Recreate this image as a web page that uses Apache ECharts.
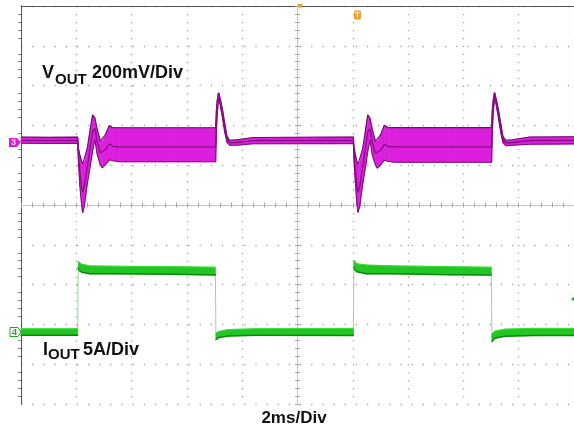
<!DOCTYPE html>
<html><head><meta charset="utf-8">
<script src="https://cdn.jsdelivr.net/npm/echarts@6/dist/echarts.min.js"></script>
<style>html,body{margin:0;padding:0;background:#fff}#c{width:574px;height:432px}</style>
</head><body><div id="c"></div>
<script>
// Time in ms relative to screen centre (2 ms/div), VOUT deviation in mV (200 mV/div), IOUT in A (5 A/div)
const vTime  = [-10.00,-9.00,-7.95,-7.92,-7.87,-7.81,-7.77,-7.71,-7.60,-7.49,-7.41,-7.33,-7.24,-7.13,-7.06,-6.95,-6.81,-6.67,-6.45,-4.50,-2.96,-2.935,-2.90,-2.86,-2.83,-2.78,-2.71,-2.63,-2.55,-2.45,-2.20,-1.60,
                 2.02,2.05,2.10,2.15,2.19,2.25,2.36,2.47,2.54,2.62,2.71,2.82,2.89,3.00,3.14,3.28,3.50,5.50,7.02,7.045,7.08,7.12,7.15,7.20,7.27,7.35,7.43,7.53,7.78,8.40,10.00];
const vUpper = [16,15,16,-40,-75,-105,-118,-110,-38,63,128,113,53,-3,-3,28,73,63,63,63,63,150,205,238,238,200,153,85,20,0,3,14,
                17,-42,-77,-107,-120,-112,-40,62,128,112,52,-5,-5,27,76,64,64,64,64,150,205,240,238,200,153,85,20,0,3,17,18];
const vLower = [-15,-16,-15,-110,-230,-320,-364,-330,-217,-123,-53,3,-73,-123,-138,-123,-98,-103,-108,-108,-108,40,140,195,210,165,110,40,-10,-25,-25,-17,
                -16,-112,-232,-322,-362,-332,-218,-125,-55,0,-75,-125,-140,-125,-100,-105,-110,-110,-110,40,140,198,210,165,110,40,-12,-27,-25,-20,-18];
const vMean  = [0,-1,0,-75,-160,-230,-260,-230,-130,-30,45,60,-10,-63,-70,-48,-18,-30,-33,-33,-33,95,172,216,224,182,131,62,5,-12,-11,-1,
                0,-77,-162,-232,-260,-232,-132,-32,44,58,-12,-65,-72,-50,-20,-31,-33,-33,-33,95,172,218,224,182,131,62,4,-13,-11,-1,0];

const iTime  = [-10.00,-7.95,-7.93,-7.88,-7.80,-7.50,-6.50,-4.50,-2.97,-2.95,-2.85,-2.50,-1.50,
                 2.02,2.04,2.09,2.17,2.50,3.50,5.50,7.01,7.03,7.13,7.50,8.50,10.00];
const iUpper = [0.40,0.40,8.85,8.70,8.50,8.30,8.25,8.20,8.13,-0.15,0.05,0.30,0.40,
                0.45,9.00,8.75,8.55,8.40,8.30,8.20,8.13,-0.25,0.10,0.35,0.45,0.45];
const iLower = [-0.40,-0.40,8.00,7.70,7.50,7.30,7.30,7.25,7.16,-0.95,-0.70,-0.50,-0.40,
                -0.45,8.10,7.75,7.55,7.30,7.30,7.20,7.16,-1.20,-0.80,-0.55,-0.45,-0.45];
const iMean  = [0,0,8.40,8.20,8.00,7.80,7.78,7.72,7.65,-0.55,-0.35,-0.10,0,
                0,8.50,8.25,8.05,7.85,7.80,7.70,7.65,-0.70,-0.35,-0.10,0,0];

const timeRange = [-10, 10];      // 10 divisions x 2 ms
const divRange  = [-5, 5];        // 10 vertical divisions
const voltRange = [-1325, 675];   // mV, 200 mV/div
const currRange = [-9.05, 40.95]; // A, 5 A/div

const zip = (xs, ys) => xs.map((x, i) => [x, ys[i]]);
const zip3 = (xs, a, b) => xs.map((x, i) => [x, a[i], b[i]]);

const chart = echarts.init(document.getElementById('c'), null, {renderer: 'canvas'});
const FONT = '"Liberation Sans", Arial, sans-serif';
const gridDot = '#a4a4a4';
const tickCol = '#a8a8a8';

const lineS = (extra) => Object.assign({type: 'line', symbol: 'none', silent: true, animation: false, xAxisIndex: 0}, extra);

// band between upper (dim 1) and lower (dim 2); optional edge strokes; steep (switching) segments left to the thin trace
function bandRender(n, fill, edgeTop, edgeBot, skipSteep) {
  return function (params, api) {
    const i = params.dataIndexInside;
    if (i >= n - 1) return null;
    const a = api.coord([api.value(0, i), api.value(1, i)]);
    const b = api.coord([api.value(0, i + 1), api.value(1, i + 1)]);
    const c = api.coord([api.value(0, i + 1), api.value(2, i + 1)]);
    const d = api.coord([api.value(0, i), api.value(2, i)]);
    const steep = (p, q) => Math.abs(q[1] - p[1]) > 4 * Math.abs(q[0] - p[0]) && Math.abs(q[1] - p[1]) > 12;
    const children = [];
    const isSteep = skipSteep && steep(a, b) && steep(d, c);
    if (!isSteep) {
      children.push({type: 'polygon', shape: {points: [a, b, c, d]}, style: {fill: fill, stroke: fill, lineWidth: 0.6}});
      if (edgeTop) children.push({type: 'line', shape: {x1: a[0], y1: a[1], x2: b[0], y2: b[1]}, style: {stroke: edgeTop[0], lineWidth: edgeTop[1], lineCap: 'round'}});
      if (edgeBot) children.push({type: 'line', shape: {x1: d[0], y1: d[1], x2: c[0], y2: c[1]}, style: {stroke: edgeBot[0], lineWidth: edgeBot[1], lineCap: 'round'}});
    }
    return {type: 'group', children: children};
  };
}
const bandS = (extra, n, fill, edgeTop, edgeBot, skipSteep) => Object.assign({type: 'custom', silent: true, animation: false, xAxisIndex: 0,
  encode: {x: 0, y: [1, 2]}, renderItem: bandRender(n, fill, edgeTop, edgeBot, skipSteep)}, extra);

const option = {
  animation: false,
  backgroundColor: '#ffffff',
  grid: {left: 21, top: 6, width: 558, height: 398, show: false},
  xAxis: [
    {type: 'value', min: timeRange[0], max: timeRange[1], interval: 2, position: 'bottom',
     axisLine: {show: true, onZero: true, onZeroAxisIndex: 0, lineStyle: {color: '#c4c4c4', width: 1}},
     axisTick: {show: true, inside: true, length: 2.5, lineStyle: {color: tickCol}},
     minorTick: {show: true, splitNumber: 5, length: 2.5, lineStyle: {color: tickCol}},
     axisLabel: {show: false},
     splitLine: {show: true, lineStyle: {color: gridDot, width: 1.3, type: [1.3, 6.66]}}},
    {type: 'value', min: timeRange[0], max: timeRange[1], interval: 2, position: 'bottom',
     axisLine: {show: false, onZero: true, onZeroAxisIndex: 0},
     axisTick: {show: true, inside: false, length: 2.5, lineStyle: {color: tickCol}},
     minorTick: {show: true, splitNumber: 5, length: 2.5, lineStyle: {color: tickCol}},
     axisLabel: {show: false}, splitLine: {show: false}},
    {type: 'value', min: timeRange[0], max: timeRange[1], interval: 2, position: 'top',
     axisLine: {show: true, onZero: false, lineStyle: {color: '#555555', width: 1}},
     axisTick: {show: false}, minorTick: {show: false},
     axisLabel: {show: false}, splitLine: {show: false}}
  ],
  yAxis: [
    {type: 'value', min: divRange[0], max: divRange[1], interval: 1, position: 'left',
     axisLine: {show: true, onZero: true, onZeroAxisIndex: 0, lineStyle: {color: '#c4c4c4', width: 1}},
     axisTick: {show: true, inside: true, length: 2.5, lineStyle: {color: tickCol}},
     minorTick: {show: true, splitNumber: 5, length: 2.5, lineStyle: {color: tickCol}},
     axisLabel: {show: false},
     splitLine: {show: true, lineStyle: {color: gridDot, width: 1.3, type: [1.3, 9.86]}}},
    {type: 'value', min: divRange[0], max: divRange[1], interval: 1, position: 'left',
     axisLine: {show: false, onZero: true, onZeroAxisIndex: 0},
     axisTick: {show: true, inside: false, length: 2.5, lineStyle: {color: tickCol}},
     minorTick: {show: true, splitNumber: 5, length: 2.5, lineStyle: {color: tickCol}},
     axisLabel: {show: false}, splitLine: {show: false}},
    {type: 'value', min: divRange[0], max: divRange[1], interval: 1, position: 'left',
     axisLine: {show: true, onZero: false, lineStyle: {color: '#555555', width: 1}},
     axisTick: {show: false},
     minorTick: {show: true, splitNumber: 5, length: 3, lineStyle: {color: '#888'}},
     axisLabel: {show: false}, splitLine: {show: false}},
    {type: 'value', show: false, min: voltRange[0], max: voltRange[1], splitLine: {show: false}},
    {type: 'value', show: false, min: currRange[0], max: currRange[1], splitLine: {show: false}}
  ],
  series: [
    // IOUT (channel 4)
    lineS({name: 'IOUT trace', yAxisIndex: 4, data: zip(iTime, iMean), lineStyle: {color: '#98d698', width: 1}, z: 3}),
    bandS({name: 'IOUT band', yAxisIndex: 4, data: zip3(iTime, iUpper, iLower), z: 4}, iTime.length, '#22c622', ['#38dc38', 1], ['#0c860c', 1.5], true),
    // VOUT (channel 3)
    bandS({name: 'VOUT band', yAxisIndex: 3, data: zip3(vTime, vUpper, vLower), z: 6}, vTime.length, '#dc1fdc', null, null, false),
    lineS({name: 'VOUT top', yAxisIndex: 3, data: zip(vTime, vUpper), lineStyle: {color: '#6a106a', width: 1.1}, z: 7}),
    lineS({name: 'VOUT bottom', yAxisIndex: 3, data: zip(vTime, vLower), lineStyle: {color: '#7a127a', width: 1.1}, z: 7}),
    lineS({name: 'VOUT mean', yAxisIndex: 3, data: zip(vTime, vMean), lineStyle: {color: '#860c86', width: 1.3}, z: 7})
  ],
  graphic: [
    {type: 'text', x: 42, y: 73.5, style: {text: 'V', font: 'bold 18px ' + FONT, fill: '#111', align: 'left', verticalAlign: 'middle'}, z: 20},
    {type: 'text', x: 55, y: 79.5, style: {text: 'OUT', font: 'bold 15px ' + FONT, fill: '#111', align: 'left', verticalAlign: 'middle'}, z: 20},
    {type: 'text', x: 92, y: 73.5, style: {text: '200mV/Div', font: 'bold 18px ' + FONT, fill: '#111', align: 'left', verticalAlign: 'middle'}, z: 20},
    {type: 'text', x: 43, y: 350, style: {text: 'I', font: 'bold 18px ' + FONT, fill: '#111', align: 'left', verticalAlign: 'middle'}, z: 20},
    {type: 'text', x: 48, y: 354.5, style: {text: 'OUT', font: 'bold 15px ' + FONT, fill: '#111', align: 'left', verticalAlign: 'middle'}, z: 20},
    {type: 'text', x: 83, y: 350, style: {text: '5A/Div', font: 'bold 18px ' + FONT, fill: '#111', align: 'left', verticalAlign: 'middle'}, z: 20},
    {type: 'text', x: 294, y: 418.5, style: {text: '2ms/Div', font: 'bold 17px ' + FONT, fill: '#111', align: 'center', verticalAlign: 'middle'}, z: 20},
    {type: 'polygon', shape: {points: [[9, 138], [17, 138], [20.5, 142.5], [17, 147], [9, 147]]}, style: {fill: '#d21fd2'}, z: 20},
    {type: 'text', x: 13.5, y: 142.8, style: {text: '3', font: 'bold 9px ' + FONT, fill: '#f6d8f6', align: 'center', verticalAlign: 'middle'}, z: 21},
    {type: 'polygon', shape: {points: [[10, 327.5], [18, 327.5], [21, 332], [18, 336.5], [10, 336.5]]}, style: {fill: '#ffffff', stroke: '#22aa22', lineWidth: 1}, z: 20},
    {type: 'text', x: 14.5, y: 332.3, style: {text: '4', font: 'bold 9px ' + FONT, fill: '#22aa22', align: 'center', verticalAlign: 'middle'}, z: 21},
    {type: 'rect', shape: {x: 354, y: 10.5, width: 7, height: 9, r: 1}, style: {fill: '#f2a12a'}, z: 20},
    {type: 'text', x: 357.5, y: 15.2, style: {text: 'T', font: 'bold 8px ' + FONT, fill: '#ffffff', align: 'center', verticalAlign: 'middle'}, z: 21},
    {type: 'polygon', shape: {points: [[297, 4], [303, 4], [300, 9]]}, style: {fill: '#f2a12a'}, z: 20},
    {type: 'polygon', shape: {points: [[571, 299], [575, 296], [575, 302]]}, style: {fill: '#22b022'}, z: 20}
  ]
};
chart.setOption(option);
</script>
</body></html>
